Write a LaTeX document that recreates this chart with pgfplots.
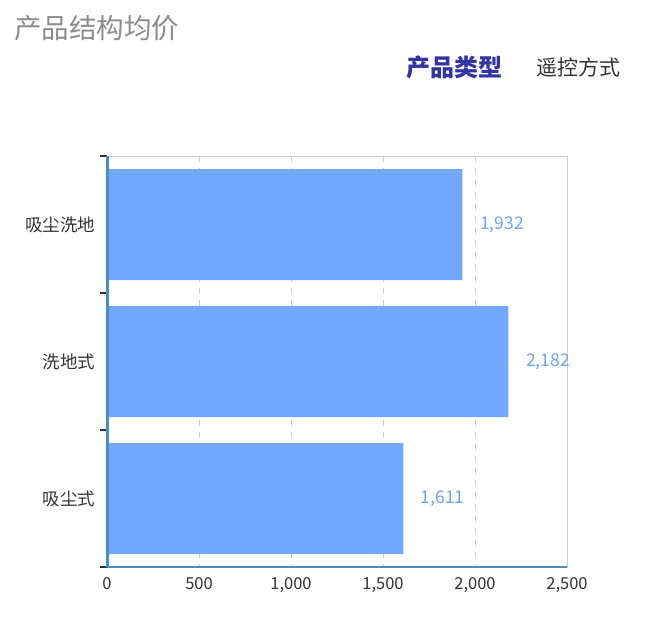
\documentclass[border=0pt]{standalone}
\usepackage{fontspec}
\setmainfont{Noto Sans CJK SC}
\usepackage{pgfplots}
\pgfplotsset{compat=1.18}
\definecolor{barblue}{HTML}{73A8FF}
\definecolor{labelblue}{HTML}{6FA3F5}
\definecolor{axisblue}{HTML}{4A8CC4}
\definecolor{gridgrey}{HTML}{CCCCCC}
\definecolor{titlegrey}{HTML}{8C8C8C}
\definecolor{legendblue}{HTML}{3333A6}
\definecolor{textgrey}{HTML}{333333}
\begin{document}
\begin{tikzpicture}[x=1pt,y=1pt]
\useasboundingbox[fill=white] (0,0) rectangle (650,619);
\node[anchor=west, text=titlegrey, font=\fontsize{27.5}{32}\selectfont, inner sep=0] at (14,591) {产品结构均价};
\node[anchor=west, text=legendblue, font=\fontsize{24}{28}\selectfont\bfseries, inner sep=0] at (406,552) {产品类型};
\node[anchor=west, text=textgrey, font=\fontsize{21}{25}\selectfont, inner sep=0] at (536,552) {遥控方式};
\begin{axis}[
    at={(107pt,52pt)}, anchor=south west,
    scale only axis, width=460pt, height=411pt,
    xbar, bar width=111pt,
    xmin=0, xmax=2500, xtick={0,500,...,2500},
    ymin=-0.5, ymax=2.5, y dir=reverse,
    ytick={0,1,2}, yticklabels={吸尘洗地,洗地式,吸尘式},
    minor ytick={-0.5,0.5,1.5,2.5},
    tick pos=left,
    tick align=outside,
    major tick style={draw=none},
    minor tick style={draw=textgrey, line width=1.2pt},
    minor tick length=7pt,
    xmajorgrids, grid style={gridgrey, line width=0.8pt, dash pattern=on 6pt off 6pt},
    axis line style={gridgrey, line width=1pt},
    ticklabel style={font=\fontsize{16.5}{19}\selectfont, text=textgrey},
    xticklabel style={yshift=-3pt},
    yticklabel style={font=\fontsize{17.5}{20}\selectfont, xshift=-4pt},
    /pgf/number format/1000 sep={,},
    /pgf/number format/assume math mode=true,
    nodes near coords,
    nodes near coords style={font=\fontsize{17.5}{20}\selectfont, text=labelblue, anchor=west, xshift=14pt},
    clip=false,
]
    \addplot[fill=barblue, draw=none] coordinates {
        (1932,0)
        (2182,1)
        (1611,2)
    };
    \draw[axisblue, line width=3pt] (axis cs:0,-0.5) -- (axis cs:0,2.5);
    \draw[axisblue, line width=2.5pt] (axis cs:0,2.5) -- (axis cs:2500,2.5);
\end{axis}
\end{tikzpicture}
\end{document}
